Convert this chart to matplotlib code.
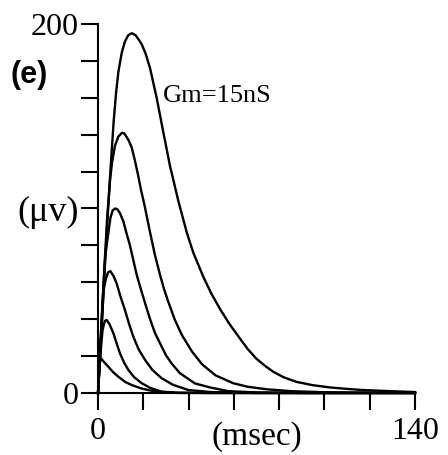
import numpy as np
import matplotlib
matplotlib.use("Agg")
import matplotlib.pyplot as plt

# values (time in msec, amplitude in microvolts)
t1 = [0, 1, 2, 3, 4, 5.3, 6.9, 8, 9, 10.5, 11.9, 13.4, 14.9, 16.5, 18, 19.3, 21, 23,
      25.9, 28.9, 31.8, 35.5, 39.2, 42.1, 46.5, 50, 53.9, 58, 62.7, 66, 70, 74, 77.4,
      82, 87.7, 95, 102.5, 110, 117, 129, 140]
v1 = [0, 22, 45, 68, 90, 117, 147, 163, 174, 184.5, 190.5, 194, 195, 194, 191.5, 189, 184, 176,
      160, 141, 123, 104, 87, 76, 63, 54, 45.5, 37.5, 29.5, 24, 18.5, 14.5, 11.5,
      8.5, 6, 4.2, 3, 2.2, 1.6, 1, 0.5]

t2 = [0, 1, 2, 3, 4, 5.3, 6.2, 7.5, 9, 10.6, 11.5, 12.5, 13.5, 14.9, 16.3, 17.8, 19, 20.5,
      23, 25.2, 27.4, 29, 31, 34, 37, 41.5, 46, 52, 59.7, 66, 74.5, 85, 100, 120, 140]
v2 = [0, 24, 48, 72, 94, 115, 125, 134, 139, 141, 140.8, 139, 137, 133, 126, 117.5, 110, 102,
      87, 74.5, 64, 57, 49.5, 39.5, 31.5, 22.5, 15.5, 9.5, 5.3, 3.4, 2, 1, 0.4, 0.1, 0]

t3 = [0, 1, 2, 3.2, 4.7, 5.5, 6.5, 7.6, 8.6, 9.7, 11.2, 12.5, 14.1, 15.6, 17.1, 19,
      20.8, 23, 25.2, 27.4, 30, 32.5, 36.2, 42.8, 49.5, 57.5, 70, 90, 140]
v3 = [0, 25, 50, 74, 88, 95, 99, 100, 99.5, 97.5, 93, 87, 80, 72, 64, 56,
      48.6, 40, 32.4, 26.9, 20.5, 16, 10.7, 5.2, 3, 1, 0.3, 0, 0]

t4 = [0, 1, 2.5, 3.5, 4.5, 5.5, 6.8, 8.2, 10, 11.9, 13.7, 15.6, 18, 20.8, 24, 28.1,
      33, 39.9, 50, 70, 140]
v4 = [0, 22, 56, 62, 65.5, 66, 63.5, 59.5, 52, 45, 37.5, 30.5, 23.5, 17.9, 12.5, 8,
      4.5, 1.6, 0.5, 0, 0]

t5 = [0, 1, 2, 3, 3.8, 5, 6.8, 8.2, 9.7, 11.5, 13.4, 16, 19.3, 23, 28.1, 35, 50, 140]
v5 = [0, 20, 34, 39, 39.6, 37.5, 32.4, 27, 21.5, 16.5, 12.5, 8.5, 5.3, 2.8, 0.7, 0.2, 0, 0]

t6 = [0, 0.5, 1.2, 2.5, 4.5, 6.5, 9, 12, 14.9, 19, 23.7, 30, 35.5, 60, 140]
v6 = [0, 14, 19, 17, 14.3, 11.5, 8.8, 6, 4.3, 2.5, 1.2, 0.4, 0, 0, 0]

curves = [(t1, v1), (t2, v2), (t3, v3), (t4, v4), (t5, v5), (t6, v6)]

x_ticks = [0, 20, 40, 60, 80, 100, 120, 140]
x_labels = ["0", "", "", "", "", "", "", "140"]
y_ticks = [0, 20, 40, 60, 80, 100, 120, 140, 160, 180, 200]
y_labels = ["0", "", "", "", "", "(\u03bcv)", "", "", "", "", "200"]

serif = "Liberation Serif"

fig = plt.figure(figsize=(4.48, 4.55), dpi=100)
ax = fig.add_axes([0.21875, 0.1363, 0.7076, 0.811])

for t, v in curves:
    ax.plot(t, v, color="black", lw=1.7, solid_joinstyle="round", clip_on=False)

ax.set_xlim(0, 140)
ax.set_ylim(0, 200)
for s in ["top", "right"]:
    ax.spines[s].set_visible(False)
for s in ["left", "bottom"]:
    ax.spines[s].set_linewidth(1.5)

ax.set_xticks(x_ticks)
ax.set_xticklabels(x_labels, fontfamily=serif, fontsize=23)
ax.set_yticks(y_ticks)
ax.set_yticklabels(y_labels, fontfamily=serif, fontsize=23)
ax.get_yticklabels()[5].set_fontsize(26)
ax.tick_params(direction="out", length=12, width=1.5)
ax.tick_params(axis="y", pad=2)
ax.tick_params(axis="x", pad=5.5)

ax.set_xlabel("(msec)", fontfamily=serif, fontsize=24, labelpad=-18)

ax.text(28.7, 161, "Gm=15nS", fontfamily=serif, fontsize=19, va="center", ha="left")
fig.text(29 / 448, 1 - 75 / 455, "(e)", fontfamily="Liberation Sans", fontweight="bold",
         fontsize=22, ha="center", va="center")

fig.savefig("out.png", dpi=100)
